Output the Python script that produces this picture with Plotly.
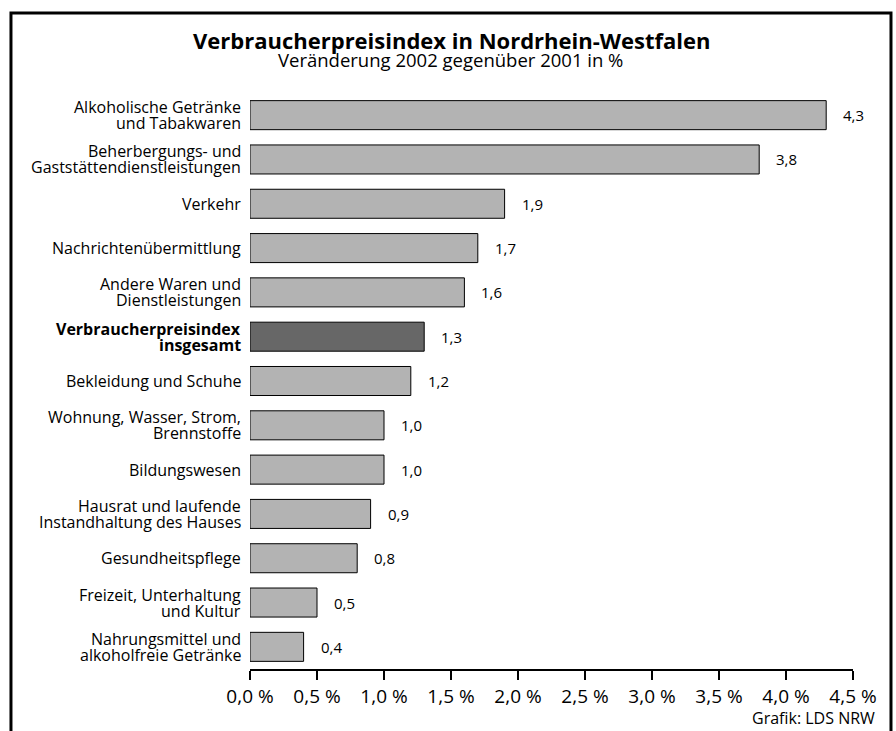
import plotly.graph_objects as go

categories = [
    "Alkoholische Getränke<br>und Tabakwaren",
    "Beherbergungs- und<br>Gaststättendienstleistungen",
    "Verkehr",
    "Nachrichtenübermittlung",
    "Andere Waren und<br>Dienstleistungen",
    "Verbraucherpreisindex<br>insgesamt",
    "Bekleidung und Schuhe",
    "Wohnung, Wasser, Strom,<br>Brennstoffe",
    "Bildungswesen",
    "Hausrat und laufende<br>Instandhaltung des Hauses",
    "Gesundheitspflege",
    "Freizeit, Unterhaltung<br>und Kultur",
    "Nahrungsmittel und<br>alkoholfreie Getränke",
]
values = [4.3, 3.8, 1.9, 1.7, 1.6, 1.3, 1.2, 1.0, 1.0, 0.9, 0.8, 0.5, 0.4]
value_labels = ["4,3", "3,8", "1,9", "1,7", "1,6", "1,3", "1,2", "1,0", "1,0", "0,9", "0,8", "0,5", "0,4"]
highlight = [False, False, False, False, False, True, False, False, False, False, False, False, False]
x_tickvals = [0, 0.5, 1, 1.5, 2, 2.5, 3, 3.5, 4, 4.5]
x_ticktext = ["0,0 %", "0,5 %", "1,0 %", "1,5 %", "2,0 %", "2,5 %", "3,0 %", "3,5 %", "4,0 %", "4,5 %"]

FONT = "Open Sans, Noto Sans, DejaVu Sans, sans-serif"
colors = ["#676767" if h else "#b3b3b3" for h in highlight]

fig = go.Figure()
fig.add_trace(go.Bar(
    x=values, y=categories, orientation="h",
    marker=dict(color=colors, line=dict(color="#000000", width=1)),
    hoverinfo="skip",
))

# value labels
for v, c, t in zip(values, categories, value_labels):
    fig.add_annotation(x=v, y=c, text=t, showarrow=False, xanchor="left",
                       xshift=15, font=dict(family=FONT, size=15, color="#000"))

# category labels (one annotation per line for tight line spacing)
LINE = 16
for c, h in zip(categories, highlight):
    lines = c.split("<br>")
    n = len(lines)
    for i, ln in enumerate(lines):
        txt = f"<b>{ln}</b>" if h else ln
        fig.add_annotation(x=0, y=c, text=txt, showarrow=False, xanchor="right",
                           yanchor="middle", xshift=-7,
                           yshift=((n - 1) / 2 - i) * LINE,
                           font=dict(family=FONT, size=16, color="#000"))

fig.add_annotation(xref="paper", yref="paper", x=0.3342, y=1.0923,
                   xanchor="center", yanchor="middle",
                   text="<b>Verbraucherpreisindex in Nordrhein-Westfalen</b>",
                   showarrow=False, font=dict(family=FONT, size=22, color="#000"))
fig.add_annotation(xref="paper", yref="paper", x=0.3325, y=1.0589,
                   xanchor="center", yanchor="middle",
                   text="Veränderung 2002 gegenüber 2001 in %",
                   showarrow=False, font=dict(family=FONT, size=18.5, color="#000"))
fig.add_annotation(xref="paper", yref="paper", x=1.04, y=-0.1076,
                   xanchor="right", yanchor="bottom",
                   text="Grafik: LDS NRW",
                   showarrow=False, font=dict(family=FONT, size=16, color="#000"))

fig.add_shape(type="rect", xref="paper", yref="paper",
              x0=-0.3964, x1=1.063, y0=-0.2, y1=1.1389,
              line=dict(color="#000", width=3), fillcolor="rgba(0,0,0,0)", layer="above")

fig.update_layout(
    width=896, height=731,
    margin=dict(l=250, r=43, t=93, b=62),
    paper_bgcolor="white", plot_bgcolor="white",
    showlegend=False,
    bargap=0.345,
    font=dict(family=FONT, size=15, color="#000"),
    xaxis=dict(range=[0, 4.5], tickvals=x_tickvals, ticktext=x_ticktext,
               showgrid=False, zeroline=False, showline=True, linecolor="#000", linewidth=1.5,
               ticks="outside", ticklen=9, tickcolor="#000", tickwidth=1.5,
               tickfont=dict(family=FONT, size=19, color="#000")),
    yaxis=dict(autorange="reversed", showgrid=False, zeroline=False, showline=False,
               ticks="", showticklabels=False),
)

fig.write_html("out.html", config={"displayModeBar": False},
               post_script="document.body.style.margin='0';document.body.style.overflow='hidden';")
